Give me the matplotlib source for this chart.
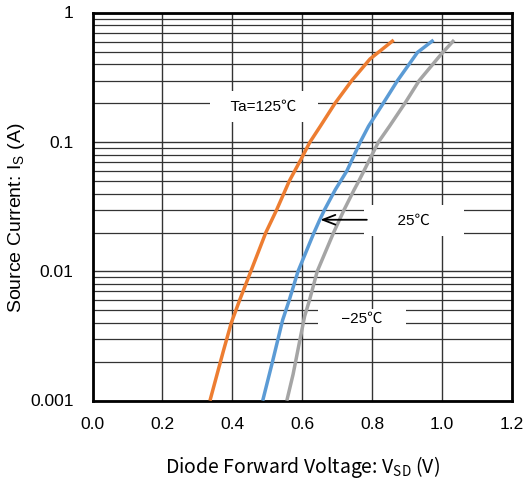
import matplotlib
matplotlib.use("Agg")
import matplotlib.pyplot as plt
from matplotlib.ticker import FixedLocator, LogLocator, NullFormatter

plt.rcParams["font.family"] = ["Liberation Sans", "Noto Sans CJK JP", "DejaVu Sans"]
plt.rcParams["mathtext.fontset"] = "custom"
plt.rcParams["mathtext.rm"] = "Liberation Sans"

# Ta = 125 C
i_125 = [0.001, 0.0024, 0.004, 0.006, 0.0094, 0.02, 0.03, 0.05, 0.075, 0.1, 0.133, 0.2, 0.3, 0.44, 0.617]
v_125 = [0.336, 0.374, 0.397, 0.421, 0.449, 0.496, 0.527, 0.563, 0.598, 0.622, 0.652, 0.694, 0.742, 0.794, 0.862]
# Ta = 25 C
i_25 = [0.001, 0.002, 0.0042, 0.006, 0.01, 0.02, 0.025, 0.03, 0.043, 0.06, 0.1, 0.133, 0.2, 0.3, 0.495, 0.617]
v_25 = [0.487, 0.515, 0.544, 0.563, 0.588, 0.634, 0.650, 0.664, 0.695, 0.728, 0.766, 0.790, 0.832, 0.873, 0.930, 0.976]
# Ta = -25 C
i_m25 = [0.001, 0.0016, 0.003, 0.0045, 0.006, 0.01, 0.02, 0.03, 0.043, 0.05, 0.1, 0.133, 0.2, 0.3, 0.48, 0.617]
v_m25 = [0.556, 0.574, 0.594, 0.607, 0.621, 0.643, 0.690, 0.720, 0.749, 0.762, 0.818, 0.850, 0.894, 0.935, 0.998, 1.035]

x_ticks = [0.0, 0.2, 0.4, 0.6, 0.8, 1.0, 1.2]
y_ticks = [0.001, 0.01, 0.1, 1]
y_labels = ["0.001", "0.01", "0.1", "1"]

fig = plt.figure(figsize=(5.26, 4.81), dpi=100)
ax = fig.add_axes([0.176, 0.165, 0.797, 0.806])
ax.set_yscale("log")
ax.set_xlim(0, 1.2)
ax.set_ylim(0.001, 1)

ax.xaxis.set_major_locator(FixedLocator(x_ticks))
ax.set_xticklabels([f"{v:.1f}" for v in x_ticks])
ax.yaxis.set_major_locator(FixedLocator(y_ticks))
ax.yaxis.set_minor_locator(LogLocator(base=10, subs=range(2, 10)))
ax.yaxis.set_minor_formatter(NullFormatter())
ax.tick_params(axis="y", which="both", length=0, labelleft=False)
ax.tick_params(axis="x", which="both", length=0, pad=11, labelsize=12.5)

# y tick labels placed a fixed 19 px left of the axis
ytrans = ax.get_yaxis_transform()
for val, lab in zip(y_ticks, y_labels):
    ax.text(-19 / 420, val, lab, transform=ytrans, ha="right", va="center", fontsize=12.5)

ax.grid(True, which="major", axis="both", color="#333333", lw=1.0)
ax.grid(True, which="minor", axis="y", color="#333333", lw=0.9)
ax.set_axisbelow(True)
for s in ax.spines.values():
    s.set_linewidth(2)
    s.set_color("black")

line_kw = dict(lw=2.5, solid_capstyle="butt", solid_joinstyle="round", zorder=3)
ax.plot(v_125, i_125, color="#ED7D31", **line_kw)
ax.plot(v_25, i_25, color="#5B9BD5", **line_kw)
ax.plot(v_m25, i_m25, color="#A5A5A5", **line_kw)

ax.text(0.49, 0.19, "   Ta=125℃   ", fontsize=11, ha="center", va="center",
        bbox=dict(facecolor="white", edgecolor="none", pad=6), zorder=4)
ax.text(0.92, 0.0249, "      25℃      ", fontsize=11, ha="center", va="center",
        bbox=dict(facecolor="white", edgecolor="none", pad=6), zorder=4)
ax.text(0.772, 0.00434, "     −25℃     ", fontsize=11, ha="center", va="center",
        bbox=dict(facecolor="white", edgecolor="none", pad=1.5), zorder=4)
ax.annotate("", xy=(0.652, 0.0251), xytext=(0.785, 0.0251),
            arrowprops=dict(arrowstyle="->,head_length=0.9,head_width=0.35",
                            color="black", lw=1.3, shrinkA=0, shrinkB=0), zorder=5)

ax.set_xlabel("Diode Forward Voltage: V$_{\\mathregular{SD}}$ (V)", fontsize=14, labelpad=16,
              family=["Noto Sans CJK JP", "DejaVu Sans"])
fig.text(17 / 526, 1 - 218 / 481, "Source Current: I$_{\\mathregular{S}}$ (A)", fontsize=14,
         rotation=90, ha="center", va="center")

fig.savefig("out.png", dpi=100)
